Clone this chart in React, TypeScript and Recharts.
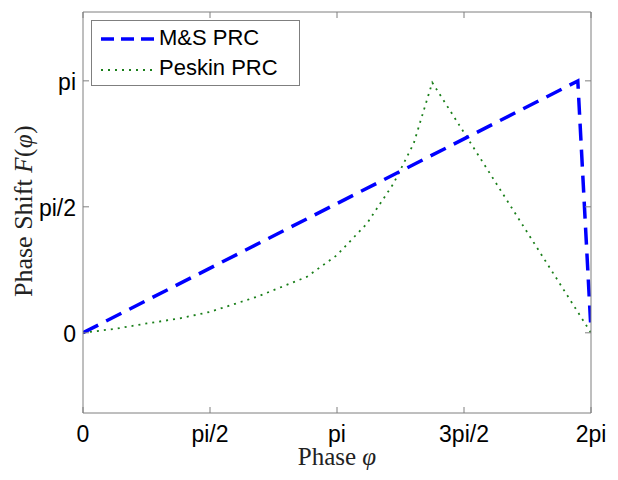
import React from 'react';
import { LineChart, Line, XAxis, YAxis } from 'recharts';

const PI = Math.PI;

// M&S PRC: [phase, shift]
const msPhase = [0, 6.12, 6.283];
const msShift = [0, 3.14, 0.03];

// Peskin PRC
const peskinPhase = [0, 0.4, 0.79, 1.2, 1.571, 2.148, 2.767, 3.138, 3.51, 3.84, 4.09, 4.25, 4.32, 6.283];
const peskinShift = [0, 0.05, 0.117, 0.18, 0.261, 0.448, 0.697, 0.966, 1.36, 1.86, 2.36, 2.89, 3.12, 0];

const xTicks = [0, PI / 2, PI, (3 * PI) / 2, 2 * PI];
const xTickLabels = ['0', 'pi/2', 'pi', '3pi/2', '2pi'];
const yTicks = [0, PI / 2, PI];
const yTickLabels = ['0', 'pi/2', 'pi'];

const msData = msPhase.map((x, i) => ({ x, y: msShift[i] }));
const peskinData = peskinPhase.map((x, i) => ({ x, y: peskinShift[i] }));

const FRAME = '#7f7f7f';
const TICK_FONT = 'Liberation Sans, Arial, sans-serif';
const SERIF = 'Liberation Serif, Times New Roman, serif';
const TICK_SIZE = 23;

const labelFor = (v: number, ticks: number[], labels: string[]) => {
  const i = ticks.findIndex((t) => Math.abs(t - v) < 1e-6);
  return i >= 0 ? labels[i] : '';
};

const BottomTick = (props: any) => {
  const { x, y, payload } = props;
  return (
    <g>
      <line x1={x} y1={y} x2={x} y2={y - 6} stroke={FRAME} strokeWidth={1} />
      <text x={x} y={y + 29} textAnchor="middle" fontFamily={TICK_FONT} fontSize={TICK_SIZE} fill="#000">
        {labelFor(payload.value, xTicks, xTickLabels)}
      </text>
    </g>
  );
};

const TopTick = (props: any) => {
  const { x, y } = props;
  return <line x1={x} y1={y} x2={x} y2={y + 6} stroke={FRAME} strokeWidth={1} />;
};

const LeftTick = (props: any) => {
  const { x, y, payload } = props;
  return (
    <g>
      <line x1={x} y1={y} x2={x + 6} y2={y} stroke={FRAME} strokeWidth={1} />
      <text x={x - 7} y={y + 9.5} textAnchor="end" fontFamily={TICK_FONT} fontSize={TICK_SIZE} fill="#000">
        {labelFor(payload.value, yTicks, yTickLabels)}
      </text>
    </g>
  );
};

const RightTick = (props: any) => {
  const { x, y } = props;
  return <line x1={x} y1={y} x2={x - 6} y2={y} stroke={FRAME} strokeWidth={1} />;
};

const XTitle = (props: any) => {
  const vb = props.viewBox || {};
  const cx = vb.x + vb.width / 2;
  return (
    <text x={cx} y={vb.y + 52} textAnchor="middle" fontFamily={SERIF} fontSize={25} fill="#222">
      Phase <tspan fontStyle="italic">φ</tspan>
    </text>
  );
};

const YTitle = () => {
  const cy = 211;
  const bx = 32;
  return (
    <text
      x={bx}
      y={cy}
      textAnchor="middle"
      transform={`rotate(-90 ${bx} ${cy})`}
      fontFamily={SERIF}
      fontSize={26}
      fill="#222"
    >
      Phase Shift{' '}
      <tspan fontSize={25} letterSpacing={0.5}>
        <tspan fontStyle="italic">F</tspan>(<tspan fontStyle="italic">φ</tspan>)
      </tspan>
    </text>
  );
};

const LegendBox = () => (
  <div
    style={{
      position: 'absolute',
      left: 91,
      top: 20,
      width: 209,
      height: 66,
      border: `1px solid ${FRAME}`,
      background: '#fff',
      boxSizing: 'border-box',
      fontFamily: TICK_FONT,
      fontSize: 22,
      color: '#000',
    }}
  >
    <svg width={70} height={65} style={{ position: 'absolute', left: 0, top: 0 }}>
      <line x1={9} y1={18} x2={63} y2={18} stroke="#0000ff" strokeWidth={3.5} strokeDasharray="13 7" />
      <line x1={9} y1={49} x2={63} y2={49} stroke="#1a7f1a" strokeWidth={1.8} strokeDasharray="2 5" />
    </svg>
    <div style={{ position: 'absolute', left: 67, top: 4, lineHeight: '26px', whiteSpace: 'nowrap' }}>M&amp;S PRC</div>
    <div style={{ position: 'absolute', left: 67, top: 34, lineHeight: '26px', whiteSpace: 'nowrap' }}>Peskin PRC</div>
  </div>
);

export default function App() {
  return (
    <div style={{ position: 'absolute', left: 0, top: 0, width: 618, height: 480, background: '#fff' }}>
      <LineChart width={618} height={480} margin={{ top: 11, right: 26, bottom: 66, left: 82 }}>
        <XAxis
          dataKey="x"
          type="number"
          domain={[0, 2 * PI]}
          ticks={xTicks}
          interval={0}
          allowDataOverflow
          height={1}
          tickSize={0}
          tickMargin={0}
          tickLine={false}
          axisLine={{ stroke: FRAME }}
          tick={BottomTick}
          label={<XTitle />}
        />
        <XAxis
          xAxisId="top"
          orientation="top"
          dataKey="x"
          type="number"
          domain={[0, 2 * PI]}
          ticks={xTicks}
          interval={0}
          allowDataOverflow
          height={1}
          tickSize={0}
          tickMargin={0}
          tickLine={false}
          axisLine={{ stroke: FRAME }}
          tick={TopTick}
        />
        <YAxis
          type="number"
          domain={[-1, 4]}
          ticks={yTicks}
          interval={0}
          allowDataOverflow
          width={1}
          tickSize={0}
          tickMargin={0}
          tickLine={false}
          axisLine={{ stroke: FRAME }}
          tick={LeftTick}
          label={<YTitle />}
        />
        <YAxis
          yAxisId="right"
          orientation="right"
          type="number"
          domain={[-1, 4]}
          ticks={yTicks}
          interval={0}
          allowDataOverflow
          width={1}
          tickSize={0}
          tickMargin={0}
          tickLine={false}
          axisLine={{ stroke: FRAME }}
          tick={RightTick}
        />
        <Line
          data={peskinData}
          dataKey="y"
          name="Peskin PRC"
          type="linear"
          stroke="#1a7f1a"
          strokeWidth={1.8}
          strokeDasharray="2 5"
          dot={false}
          isAnimationActive={false}
        />
        <Line
          data={msData}
          dataKey="y"
          name="M&S PRC"
          type="linear"
          stroke="#0000ff"
          strokeWidth={3.5}
          strokeDasharray="17 9"
          dot={false}
          isAnimationActive={false}
        />
      </LineChart>
      <LegendBox />
    </div>
  );
}
